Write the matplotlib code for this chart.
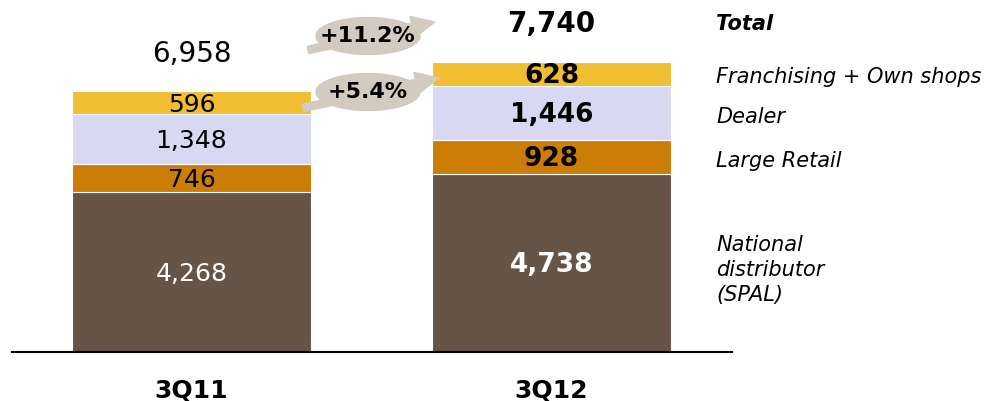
import numpy as np
import matplotlib
matplotlib.use('Agg')
import matplotlib.pyplot as plt
from matplotlib.patches import Ellipse
import matplotlib.transforms as mtrans

plt.rcParams['font.family'] = ['DejaVu Sans']

quarters = ['3Q11', '3Q12']
segments = ['National\ndistributor\n(SPAL)', 'Large Retail', 'Dealer', 'Franchising + Own shops']
values = {
    '3Q11': [4268, 746, 1348, 596],
    '3Q12': [4738, 928, 1446, 628],
}
totals = [6958, 7740]
growth = ['+11.2%', '+5.4%']
colors = ['#665547', '#CC7D06', '#D8D8F2', '#F0BE32']
label_colors = ['white', 'black', 'black', 'black']
arrow_grey = '#D3CBBF'

W, H = 990, 401
fig = plt.figure(figsize=(W / 100, H / 100), dpi=100)
# axes fill whole figure, scales picked so bars land where they do in the original
ax = fig.add_axes([0, 0, 1, 1])
px_per_cat = 360.0
x0_px = 191.5
ax.set_xlim(-x0_px / px_per_cat, (W - x0_px) / px_per_cat)
px_per_unit = 290.0 / 7740
base_px = 49
ax.set_ylim(-base_px / px_per_unit, (H - base_px) / px_per_unit)
ax.axis('off')

x = np.arange(len(quarters))
bottoms = np.zeros(len(quarters))
for i in range(len(segments)):
    vals = np.array([values[q][i] for q in quarters])
    ax.bar(x, vals, bottom=bottoms, width=239 / px_per_cat, color=colors[i],
           edgecolor='white', linewidth=0.8)
    for j, q in enumerate(quarters):
        ax.annotate(f'{vals[j]:,}', xy=(x[j], bottoms[j] + vals[j] / 2), xytext=(0, -1.5),
                    textcoords='offset points', ha='center', va='center',
                    color=label_colors[i], fontsize=18 if j == 0 else 19,
                    fontweight='normal' if j == 0 else 'bold')
    bottoms += vals

# totals
for j, t in enumerate(totals):
    ax.annotate(f'{t:,}', xy=(x[j], bottoms[j]), xytext=(0, 27), textcoords='offset points',
                ha='center', va='center', fontsize=20,
                fontweight='normal' if j == 0 else 'bold')

# baseline
ax.axhline(0, xmin=12 / W, xmax=732 / W, color='black', lw=1.5)

# category labels
for j, q in enumerate(quarters):
    ax.annotate(q, xy=(x[j], 0), xytext=(0, -28), textcoords='offset points',
                ha='center', va='center', fontsize=18, fontweight='bold')

# legend labels on the right, aligned with 3Q12 segments
trans = mtrans.blended_transform_factory(fig.transFigure, ax.transData)
cum = np.cumsum([0] + values['3Q12'])
shift = [-5, -3, -3, -2]
for i, s in enumerate(segments):
    yc = (cum[i] + cum[i + 1]) / 2
    ax.annotate(s, xy=(716 / W, yc), xycoords=trans, xytext=(0, shift[i]),
                textcoords='offset points', ha='left', va='center', fontsize=15,
                style='italic', linespacing=1.3)
ax.annotate('Total', xy=(716 / W, totals[1]), xycoords=trans, xytext=(0, 27),
            textcoords='offset points', ha='left', va='center', fontsize=15,
            style='italic', fontweight='bold')


def fpx(px, py):
    return px / W, 1 - py / H


# growth bubbles with arrows
bubbles = [((368, 36), (308, 50), (435, 22)),
           ((368, 92), (303, 108), (439, 78))]
for (c, tail, head), g in zip(bubbles, growth):
    ax.annotate('', xy=fpx(*head), xytext=fpx(*tail), xycoords='figure fraction',
                textcoords='figure fraction',
                arrowprops=dict(arrowstyle='simple,head_width=1.3,head_length=1.4,tail_width=0.45',
                                color=arrow_grey, shrinkA=0, shrinkB=0, mutation_scale=12))
    e = Ellipse(fpx(*c), 104 / W, 37 / H, transform=fig.transFigure, color=arrow_grey, zorder=5)
    fig.patches.append(e)
    fig.text(*fpx(*c), g, ha='center', va='center', fontsize=16, fontweight='bold', zorder=6)

fig.savefig('out.png', dpi=100)
